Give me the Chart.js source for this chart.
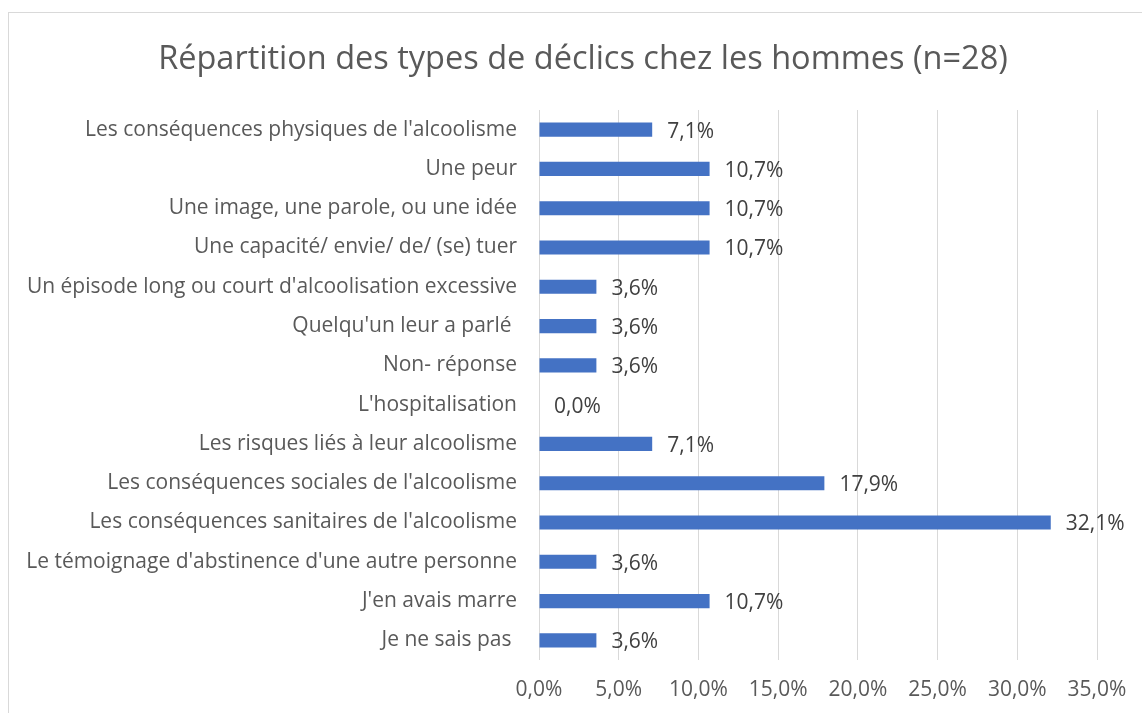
<!DOCTYPE html>
<html lang="fr">
<head>
<meta charset="utf-8">
<title>Répartition des types de déclics chez les hommes</title>
<script src="https://cdn.jsdelivr.net/npm/chart.js@4.4.1/dist/chart.umd.min.js"></script>
<style>
  html, body { margin: 0; padding: 0; background: #fff; overflow: hidden; }
  body { width: 1142px; height: 713px; position: relative; }
  #frame { position: absolute; left: 8px; top: 12px; width: 1200px; height: 800px;
           border-left: 1px solid #d9d9d9; border-top: 1px solid #d9d9d9; }
  #wrap { position: absolute; left: 8px; top: 0; width: 1150px; height: 713px; }
</style>
</head>
<body>
<div id="frame"></div>
<div id="wrap"><canvas id="myChart"></canvas></div>
<script>
// Données
const chartTitle = 'Répartition des types de déclics chez les hommes (n=28)';
const categories = [
  "Les conséquences physiques de l'alcoolisme",
  "Une peur",
  "Une image, une parole, ou une idée",
  "Une capacité/ envie/ de/ (se) tuer",
  "Un épisode long ou court d'alcoolisation excessive",
  "Quelqu'un leur a parlé ",
  "Non- réponse",
  "L'hospitalisation",
  "Les risques liés à leur alcoolisme",
  "Les conséquences sociales de l'alcoolisme",
  "Les conséquences sanitaires de l'alcoolisme",
  "Le témoignage d'abstinence d'une autre personne",
  "J'en avais marre",
  "Je ne sais pas "
];
const percentages = [7.1, 10.7, 10.7, 10.7, 3.6, 3.6, 3.6, 0.0, 7.1, 17.9, 32.1, 3.6, 10.7, 3.6];
const xTicks = [0, 5, 10, 15, 20, 25, 30, 35];

const FONT = '"Open Sans", Lato, sans-serif';
const TEXT_COLOR = '#595959';

// Format 7.1 -> "7,1%"
function formatPercent(value) {
  return value.toFixed(1).replace('.', ',') + '%';
}

// Titre centré sur tout le cadre (et non sur la zone de tracé)
const centeredTitle = {
  id: 'centeredTitle',
  afterDraw(chart) {
    const ctx = chart.ctx;
    ctx.save();
    ctx.font = '32.5px ' + FONT;
    ctx.fillStyle = TEXT_COLOR;
    ctx.textAlign = 'center';
    ctx.textBaseline = 'middle';
    ctx.fillText(chartTitle, chart.width / 2, 60);
    ctx.restore();
  }
};

// Étiquettes de valeur à droite des barres
const valueLabels = {
  id: 'valueLabels',
  afterDatasetsDraw(chart) {
    const ctx = chart.ctx;
    const meta = chart.getDatasetMeta(0);
    ctx.save();
    ctx.font = '21px ' + FONT;
    ctx.fillStyle = '#404040';
    ctx.textAlign = 'left';
    ctx.textBaseline = 'middle';
    meta.data.forEach((bar, i) => {
      ctx.fillText(formatPercent(percentages[i]), bar.x + 15, bar.y + 2);
    });
    ctx.restore();
  }
};

const ctx = document.getElementById('myChart').getContext('2d');

new Chart(ctx, {
  type: 'bar',
  data: {
    labels: categories,
    datasets: [{
      data: percentages,
      backgroundColor: '#4472C4',
      borderWidth: 0,
      barPercentage: 0.36,
      categoryPercentage: 1
    }]
  },
  options: {
    indexAxis: 'y',
    responsive: true,
    maintainAspectRatio: false,
    animation: false,
    layout: {
      padding: { left: 0, right: 61, top: 110, bottom: 0 }
    },
    plugins: {
      legend: { display: false },
      tooltip: { enabled: false },
      title: { display: false }
    },
    scales: {
      x: {
        min: 0,
        max: 35,
        afterBuildTicks(scale) {
          scale.ticks = xTicks.map(v => ({ value: v }));
        },
        afterFit(scale) {
          scale.height = 53;
        },
        ticks: {
          color: TEXT_COLOR,
          font: { family: FONT, size: 21 },
          padding: 17,
          callback: (v) => formatPercent(v)
        },
        grid: { color: '#d9d9d9', lineWidth: 1, drawTicks: false },
        border: { display: false }
      },
      y: {
        afterFit(scale) {
          scale.width = 531;
        },
        ticks: {
          color: TEXT_COLOR,
          font: { family: FONT, size: 21 },
          padding: 14,
          autoSkip: false
        },
        grid: { display: false },
        border: { display: false }
      }
    }
  },
  plugins: [valueLabels, centeredTitle]
});
</script>
</body>
</html>
